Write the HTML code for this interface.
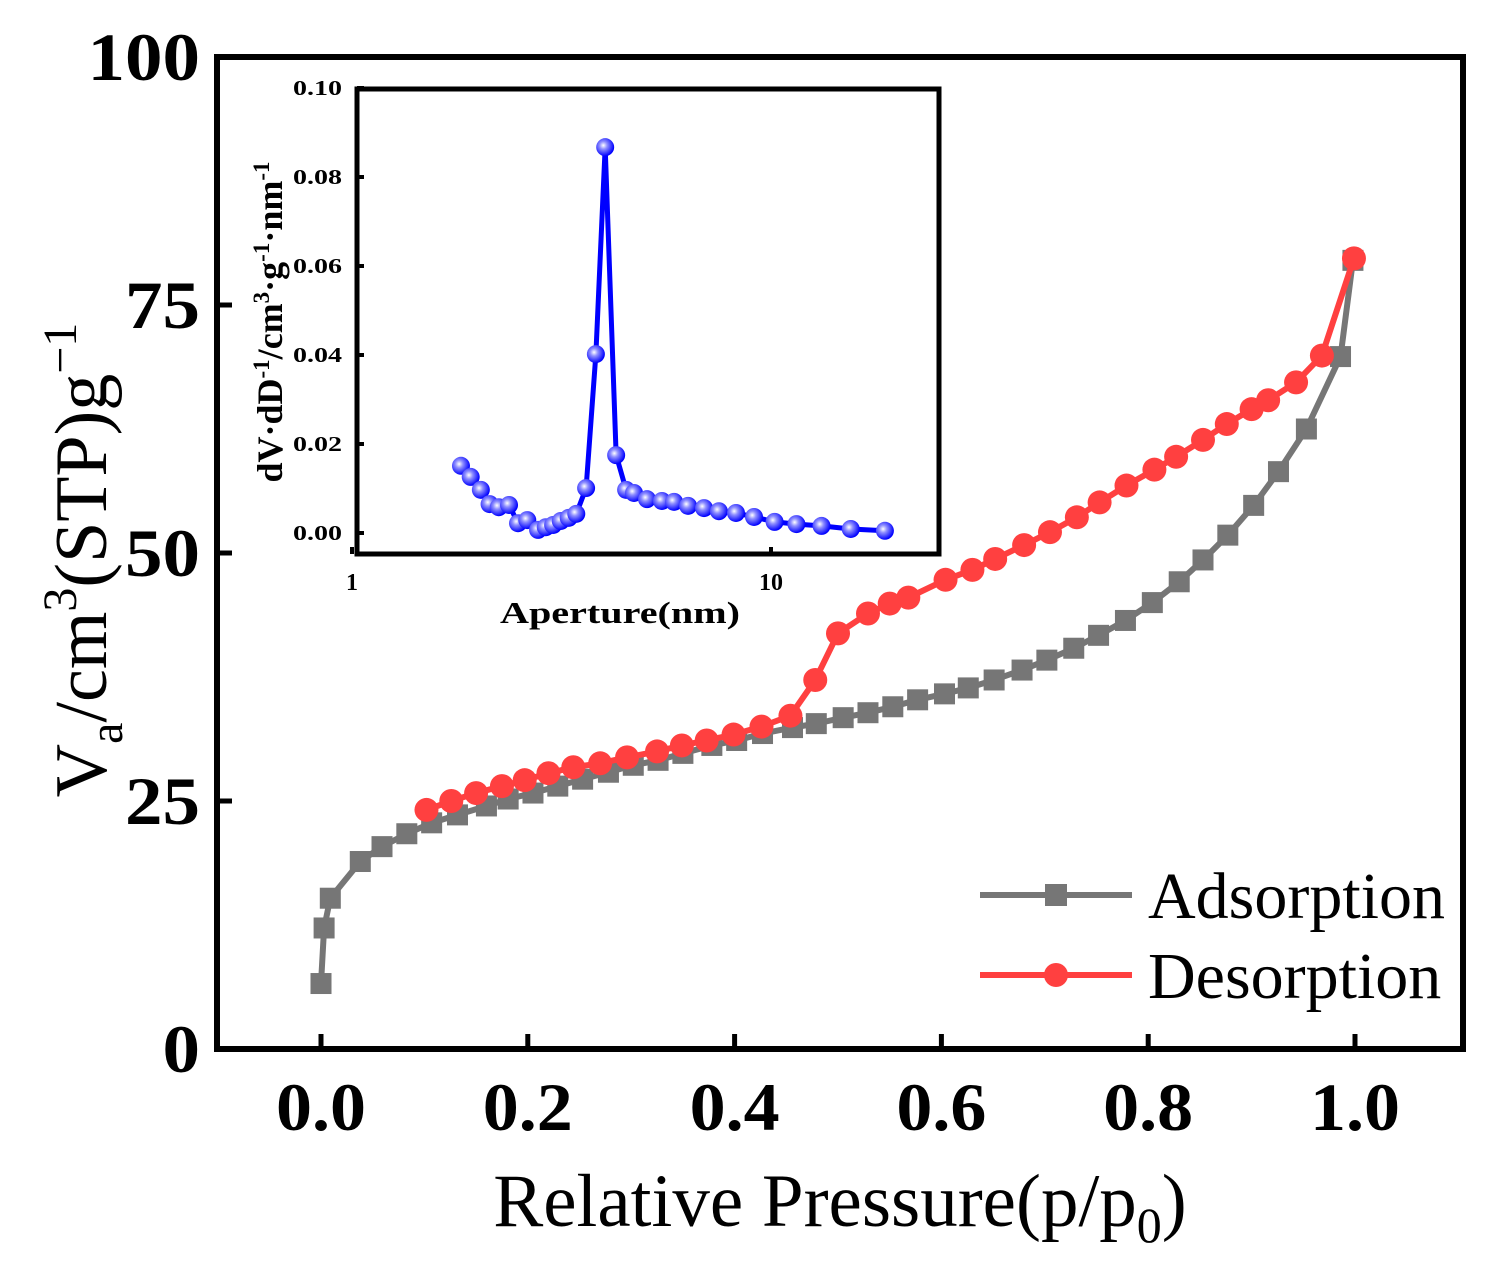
<!DOCTYPE html>
<html><head><meta charset="utf-8"><style>
body{margin:0;background:#fff}
svg{display:block;font-family:"Liberation Serif",serif}
</style></head><body>
<svg id="chart" width="1490" height="1262" viewBox="0 0 1490 1262" xmlns="http://www.w3.org/2000/svg">
<defs>
<radialGradient id="ball" cx="0.4" cy="0.4" r="0.6">
<stop offset="0" stop-color="#ffffff"/><stop offset="0.35" stop-color="#8f8fff"/><stop offset="1" stop-color="#0000ff"/>
</radialGradient>
</defs>
<g id="main"></g>
<g id="inset"></g>
</svg>
<script>
const adsX=[0.0,0.003,0.009,0.038,0.059,0.083,0.107,0.132,0.160,0.181,0.205,0.229,0.253,0.278,0.302,0.326,0.350,0.378,0.402,0.427,0.456,0.479,0.505,0.529,0.553,0.577,0.603,0.626,0.651,0.678,0.702,0.728,0.752,0.778,0.804,0.830,0.853,0.877,0.902,0.926,0.953,0.986,0.998];
const adsY=[6.6,12.2,15.2,18.9,20.4,21.7,22.8,23.6,24.5,25.2,25.8,26.5,27.2,27.9,28.6,29.1,29.8,30.6,31.1,31.8,32.4,32.8,33.4,33.9,34.5,35.2,35.8,36.4,37.2,38.2,39.2,40.4,41.7,43.2,45.0,47.1,49.3,51.8,54.8,58.2,62.5,69.8,79.5];
const desX=[0.102,0.126,0.150,0.175,0.197,0.220,0.244,0.270,0.296,0.325,0.349,0.373,0.399,0.426,0.454,0.478,0.500,0.529,0.550,0.568,0.604,0.630,0.652,0.680,0.705,0.731,0.753,0.779,0.806,0.827,0.853,0.876,0.900,0.916,0.943,0.968,0.999];
const desY=[24.1,25.0,25.8,26.5,27.1,27.8,28.4,28.8,29.4,30.0,30.6,31.1,31.7,32.5,33.6,37.2,41.9,43.9,44.9,45.5,47.3,48.3,49.4,50.8,52.1,53.6,55.1,56.8,58.4,59.7,61.4,63.0,64.5,65.4,67.2,69.9,79.7];
const xTicks=[0.0,0.2,0.4,0.6,0.8,1.0];
const xTickLabels=["0.0","0.2","0.4","0.6","0.8","1.0"];
const yTicks=[0,25,50,75,100];
const yTickLabels=["0","25","50","75","100"];
const poreD=[1.82,1.92,2.03,2.13,2.24,2.37,2.49,2.62,2.78,2.90,3.02,3.15,3.29,3.43,3.62,3.82,4.02,4.27,4.51,4.71,5.06,5.49,5.87,6.34,6.92,7.51,8.25,9.11,10.2,11.5,13.2,15.5,18.7];
const poreV=[0.0151,0.0126,0.0097,0.0065,0.0058,0.0063,0.0022,0.0029,0.0007,0.0013,0.0018,0.0027,0.0034,0.0043,0.0101,0.0402,0.0867,0.0175,0.0097,0.0090,0.0076,0.0072,0.0070,0.0061,0.0056,0.0049,0.0045,0.0036,0.0025,0.0020,0.0016,0.0009,0.0005];
const insetYTicks=[0,0.02,0.04,0.06,0.08,0.10];
const insetYLabels=["0.00","0.02","0.04","0.06","0.08","0.10"];
const insetXTicks=[1,10];
const insetXLabels=["1","10"];

const NS="http://www.w3.org/2000/svg";
function mk(parent,tag,attrs,text){const e=document.createElementNS(NS,tag);for(const k in attrs)e.setAttribute(k,attrs[k]);if(text!==undefined)e.textContent=text;parent.appendChild(e);return e;}
const X=v=>321+v*1034;
const Y=v=>1049-v*9.92;
const main=document.getElementById('main');

xTicks.forEach((t,i)=>{
  const l=mk(main,'line',{x1:X(t),x2:X(t),y1:1049,y2:1034,stroke:'#000','stroke-width':5});
  
  
  const tx=mk(main,'text',{x:X(t),y:1130,'text-anchor':'middle','font-size':68,'font-weight':'bold',textLength:90,lengthAdjust:'spacingAndGlyphs'},xTickLabels[i]);
  
  
});
yTicks.forEach((t,i)=>{
  const l=mk(main,'line',{x1:217,x2:232,y1:Y(t),y2:Y(t),stroke:'#000','stroke-width':5});
  
  
  const w=yTickLabels[i].length*37.5;
  const tx=mk(main,'text',{x:200-w,y:Y(t)+23,'font-size':68,'font-weight':'bold',textLength:w,lengthAdjust:'spacingAndGlyphs'},yTickLabels[i]);
  
  
});

const adsPts=adsX.map((x,i)=>X(x)+','+Y(adsY[i])).join(' ');
const adsLine=mk(main,'polyline',{points:adsPts,fill:'none',stroke:'#767676','stroke-width':6,'stroke-linejoin':'round'});


adsX.forEach((x,i)=>{
  const r=mk(main,'rect',{x:X(x)-10.5,y:Y(adsY[i])-10.5,width:21,height:21,fill:'#767676'});
  
  
});
const desPts=desX.map((x,i)=>X(x)+','+Y(desY[i])).join(' ');
const desLine=mk(main,'polyline',{points:desPts,fill:'none',stroke:'#ff4040','stroke-width':6,'stroke-linejoin':'round'});


desX.forEach((x,i)=>{
  const c=mk(main,'circle',{cx:X(x),cy:Y(desY[i]),r:12,fill:'#ff4040'});
  
  
});

const fr=mk(main,'rect',{x:217,y:57,width:1246,height:992,fill:'none',stroke:'#000','stroke-width':6});



const xt=mk(main,'text',{x:840,y:1226,'text-anchor':'middle','font-size':75});


xt.innerHTML='Relative Pressure(p/p<tspan font-size="50" dy="16">0</tspan><tspan dy="-16">)</tspan>';
const yt=mk(main,'text',{transform:'translate(106,560) rotate(-90)','text-anchor':'middle','font-size':74});


yt.innerHTML='V<tspan font-size="48" dy="16">a</tspan><tspan dy="-16">/cm</tspan><tspan font-size="48" dy="-30">3</tspan><tspan dy="30">(STP)g</tspan><tspan font-size="48" dy="-30">−1</tspan>';

const lg=mk(main,'g',{});


const la=mk(lg,'line',{x1:980,x2:1132,y1:895,y2:895,stroke:'#767676','stroke-width':6});


const lar=mk(lg,'rect',{x:1045,y:884,width:22,height:22,fill:'#767676'});


const lat=mk(lg,'text',{x:1148,y:918,'font-size':66},'Adsorption');


const ld=mk(lg,'line',{x1:980,x2:1132,y1:975,y2:975,stroke:'#ff4040','stroke-width':6});


const ldc=mk(lg,'circle',{cx:1056,cy:975,r:12,fill:'#ff4040'});


const ldt=mk(lg,'text',{x:1148,y:998,'font-size':66},'Desorption');



const inset=document.getElementById('inset');


const IX=d=>352+Math.log10(d)*419;
const IY=v=>533-v*4450;
const ibg=mk(inset,'rect',{x:357,y:89,width:582,height:465,fill:'#fff',stroke:'#000','stroke-width':5});


insetYTicks.forEach((t,i)=>{
  const l=mk(inset,'line',{x1:357,x2:364,y1:IY(t),y2:IY(t),stroke:'#000','stroke-width':4});
  
  
  const tx=mk(inset,'text',{x:293,y:IY(t)+7,'font-size':21,'font-weight':'bold',textLength:49,lengthAdjust:'spacingAndGlyphs'},insetYLabels[i]);
  
  
});
insetXTicks.forEach((t,i)=>{
  const l=mk(inset,'line',{x1:IX(t),x2:IX(t),y1:554,y2:547,stroke:'#000','stroke-width':4});
  
  
  const tx=mk(inset,'text',{x:IX(t),y:590,'text-anchor':'middle','font-size':24,'font-weight':'bold'},insetXLabels[i]);
  
  
});
const ixt=mk(inset,'text',{x:500,y:623,'font-size':31,'font-weight':'bold',textLength:240,lengthAdjust:'spacingAndGlyphs'},'Aperture(nm)');


const iyt=mk(inset,'text',{transform:'translate(282,322) rotate(-90)','text-anchor':'middle','font-size':36,'font-weight':'bold'});


iyt.innerHTML='dV·dD<tspan font-size="23" dy="-13">-1</tspan><tspan dy="13">/cm</tspan><tspan font-size="23" dy="-13">3</tspan><tspan dy="13">·g</tspan><tspan font-size="23" dy="-13">-1</tspan><tspan dy="13">·nm</tspan><tspan font-size="23" dy="-13">-1</tspan>';
const pPts=poreD.map((d,i)=>IX(d)+','+IY(poreV[i])).join(' ');
const pl=mk(inset,'polyline',{points:pPts,fill:'none',stroke:'#0000ff','stroke-width':5,'stroke-linejoin':'round'});


poreD.forEach((d,i)=>{
  const c=mk(inset,'circle',{cx:IX(d),cy:IY(poreV[i]),r:9,fill:'url(#ball)'});
  
  
});
</script>
</body></html>
